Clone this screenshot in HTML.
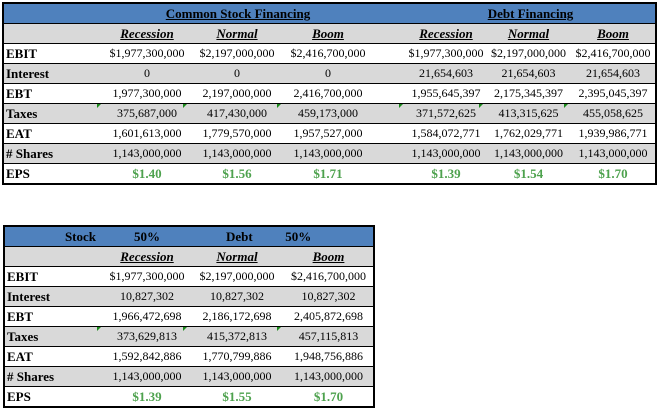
<!DOCTYPE html>
<html><head><style>
body{margin:0;background:#fff;width:657px;height:411px;position:relative;font-family:"Liberation Serif",serif;font-size:12px;color:#000}
table{position:absolute;border-collapse:collapse;table-layout:fixed;border:2px solid #000}
td{height:19px;padding:0;border-bottom:1px solid #000;text-align:center;white-space:nowrap;overflow:visible}
tr.h td{background:#4f81bd;font-weight:bold;font-size:13px}
tr.g td{background:#d9d9d9}
td.l{text-align:left;font-weight:bold;padding-left:2px;font-size:13px}
.u{text-decoration:underline;font-weight:bold;font-style:italic;font-size:13px}
.hu{text-decoration:underline}
.e{color:#4ea24e;font-weight:bold;font-size:13px}
tr:last-child td{border-bottom:none}
td.t{position:relative}
td.t::before{content:"";position:absolute;left:-7px;top:0;border-top:4px solid #1a8a1a;border-right:4px solid transparent}
</style></head><body>
<table style="left:2px;top:2px;width:653px">
<colgroup><col style="width:101px"><col style="width:86px"><col style="width:94px"><col style="width:88px"><col style="width:34px"><col style="width:80px"><col style="width:85px"><col style="width:85px"></colgroup>
<tr class="h"><td></td><td colspan="3"><span class="hu">Common Stock Financing</span></td><td></td><td colspan="3"><span class="hu">Debt Financing</span></td></tr>
<tr class="g"><td></td><td class="u">Recession</td><td class="u">Normal</td><td class="u">Boom</td><td></td><td class="u">Recession</td><td class="u">Normal</td><td class="u">Boom</td></tr>
<tr><td class="l">EBIT</td><td>$1,977,300,000</td><td>$2,197,000,000</td><td>$2,416,700,000</td><td></td><td>$1,977,300,000</td><td>$2,197,000,000</td><td>$2,416,700,000</td></tr>
<tr class="g"><td class="l">Interest</td><td>0</td><td>0</td><td>0</td><td></td><td>21,654,603</td><td>21,654,603</td><td>21,654,603</td></tr>
<tr><td class="l">EBT</td><td>1,977,300,000</td><td>2,197,000,000</td><td>2,416,700,000</td><td></td><td>1,955,645,397</td><td>2,175,345,397</td><td>2,395,045,397</td></tr>
<tr class="g"><td class="l">Taxes</td><td class="t">375,687,000</td><td class="t">417,430,000</td><td class="t">459,173,000</td><td></td><td class="t">371,572,625</td><td class="t">413,315,625</td><td class="t">455,058,625</td></tr>
<tr><td class="l">EAT</td><td>1,601,613,000</td><td>1,779,570,000</td><td>1,957,527,000</td><td></td><td>1,584,072,771</td><td>1,762,029,771</td><td>1,939,986,771</td></tr>
<tr class="g"><td class="l"># Shares</td><td>1,143,000,000</td><td>1,143,000,000</td><td>1,143,000,000</td><td></td><td>1,143,000,000</td><td>1,143,000,000</td><td>1,143,000,000</td></tr>
<tr><td class="l">EPS</td><td class="e">$1.40</td><td class="e">$1.56</td><td class="e">$1.71</td><td></td><td class="e">$1.39</td><td class="e">$1.54</td><td class="e">$1.70</td></tr>
</table>
<table style="left:3px;top:225px;width:370px">
<colgroup><col style="width:100px"><col style="width:86px"><col style="width:94px"><col style="width:90px"></colgroup>
<tr class="h"><td style="text-align:right;padding-right:8px">Stock</td><td>50%</td><td style="text-align:left;padding-left:36px">Debt&nbsp;&nbsp;&nbsp;&nbsp;&nbsp;&nbsp;&nbsp;&nbsp;&nbsp;&nbsp;50%</td><td></td></tr>
<tr class="g"><td></td><td class="u">Recession</td><td class="u">Normal</td><td class="u">Boom</td></tr>
<tr><td class="l">EBIT</td><td>$1,977,300,000</td><td>$2,197,000,000</td><td>$2,416,700,000</td></tr>
<tr class="g"><td class="l">Interest</td><td>10,827,302</td><td>10,827,302</td><td>10,827,302</td></tr>
<tr><td class="l">EBT</td><td>1,966,472,698</td><td>2,186,172,698</td><td>2,405,872,698</td></tr>
<tr class="g"><td class="l">Taxes</td><td class="t">373,629,813</td><td class="t">415,372,813</td><td class="t">457,115,813</td></tr>
<tr><td class="l">EAT</td><td>1,592,842,886</td><td>1,770,799,886</td><td>1,948,756,886</td></tr>
<tr class="g"><td class="l"># Shares</td><td>1,143,000,000</td><td>1,143,000,000</td><td>1,143,000,000</td></tr>
<tr><td class="l">EPS</td><td class="e">$1.39</td><td class="e">$1.55</td><td class="e">$1.70</td></tr>
</table>
</body></html>
